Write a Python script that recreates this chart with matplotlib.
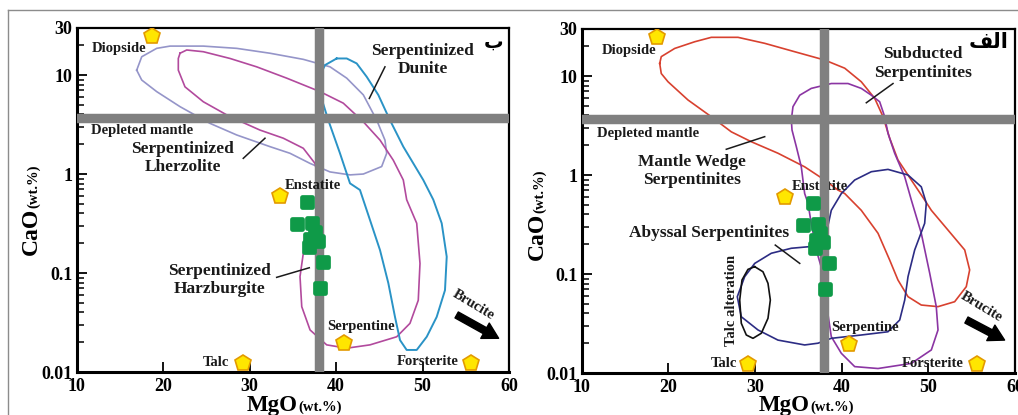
import numpy as np
import matplotlib
matplotlib.use('Agg')
import matplotlib.pyplot as plt
from matplotlib.markers import MarkerStyle
from matplotlib.lines import Line2D
from matplotlib.ticker import FixedLocator, LogLocator, NullFormatter

plt.rcParams['font.family'] = ['Liberation Serif', 'DejaVu Sans']
plt.rcParams['font.weight'] = 'bold'

# ---- fields, left panel (MgO wt.%, CaO wt.%)
lherz_mgo = [16.96, 17.54, 19.27, 20.81, 24.66, 28.52, 32.37, 36.22, 39.31, 41.24, 43.16, 44.71, 45.66,
             45.86, 45.28, 43.16, 41.62, 39.31, 37.0, 34.68, 32.37, 28.52, 25.43, 21.97, 19.27, 17.54]
lherz_cao = [11.2, 15.3, 18.6, 19.6, 19.6, 18.6, 16.6, 14.4, 12.1, 9.3, 6.3, 3.5, 2.2,
             1.62, 1.19, 1.0, 0.98, 1.05, 1.28, 1.62, 1.89, 2.48, 3.25, 4.79, 6.8, 8.9]

harz_mgo = [21.97, 22.74, 24.66, 27.75, 30.83, 34.3, 38.15, 40.84, 43.16, 45.09, 46.62, 47.78, 48.17,
            49.33, 49.71, 49.51, 48.55, 47.02, 43.93, 41.24, 38.92, 37.0, 36.04, 35.84, 36.22, 37.77,
            38.35, 38.15, 37.57, 36.22, 33.91, 31.21, 27.75, 24.66, 22.54, 21.77, 21.77]
harz_cao = [16.6, 17.9, 17.2, 14.7, 12.1, 9.3, 6.8, 5.2, 3.37, 2.2, 1.38, 0.87, 0.55,
            0.318, 0.125, 0.053, 0.031, 0.0227, 0.0188, 0.0174, 0.0188, 0.0266, 0.0457, 0.092, 0.158, 0.318,
            0.59, 0.745, 1.28, 1.82, 2.3, 2.78, 3.79, 5.37, 7.6, 11.2, 14.7]

dunite_mgo = [40.08, 41.24, 42.39, 43.55, 44.89, 46.24, 47.78, 50.09, 51.25, 52.22, 52.8, 52.6, 51.64, 50.49,
              49.33, 48.17, 47.4, 46.82, 46.05, 45.09, 43.93, 42.77, 41.62, 40.46, 39.11, 38.15, 38.07, 38.73]
dunite_cao = [14.7, 14.7, 13.1, 9.6, 6.3, 3.5, 1.89, 0.87, 0.55, 0.318, 0.146, 0.067, 0.036, 0.0227,
              0.0167, 0.0167, 0.021, 0.036, 0.079, 0.17, 0.343, 0.69, 0.805, 1.62, 3.5, 6.5, 9.6, 12.6]

# ---- fields, right panel
wedge_mgo = [19.02, 19.2, 20.75, 23.06, 24.97, 28.05, 31.13, 34.59, 38.05, 40.36, 42.27, 43.82, 44.78, 45.55,
             46.5, 48.04, 49.58, 50.35, 52.27, 54.2, 54.77, 54.38, 53.04, 51.12, 49.19, 47.66, 46.5, 45.55,
             44.2, 42.27, 40.36, 39.58, 38.05, 35.74, 32.66, 29.58, 27.28, 24.97, 22.28, 19.98, 19.2]
wedge_cao = [13.4, 15.7, 19.0, 22.2, 24.6, 24.6, 21.4, 17.6, 14.5, 12.0, 8.75, 5.95, 3.88, 2.35,
             1.42, 0.89, 0.56, 0.44, 0.278, 0.175, 0.11, 0.0745, 0.0525, 0.0468, 0.0486, 0.059, 0.087, 0.138,
             0.258, 0.44, 0.65, 0.705, 0.89, 1.21, 1.66, 2.17, 2.73, 3.88, 5.73, 8.75, 10.6]

subducted_mgo = [34.2, 34.39, 35.17, 36.5, 38.81, 40.74, 42.27, 43.43, 44.39, 44.97, 45.35, 46.12, 47.28,
                 48.04, 49.19, 50.16, 50.92, 51.12, 50.35, 48.04, 44.2, 41.51, 39.97, 38.81, 38.24, 37.85,
                 37.08, 36.5, 36.12, 35.74, 35.35, 34.78, 34.28]
subducted_cao = [3.6, 4.9, 6.4, 7.5, 8.4, 8.4, 7.5, 6.4, 5.5, 3.88, 2.64, 1.66, 0.96,
                 0.56, 0.258, 0.102, 0.0468, 0.0272, 0.0171, 0.0125, 0.0111, 0.0116, 0.0158, 0.0233, 0.0506, 0.102,
                 0.175, 0.325, 0.52, 0.65, 1.21, 1.93, 2.85]

abyssal_mgo = [36.32, 34.2, 31.89, 29.98, 28.82, 27.97, 28.43, 30.36, 32.66, 35.74, 37.28, 38.81, 42.27, 45.35,
               46.7, 47.28, 47.66, 48.43, 49.58, 49.77, 49.19, 47.66, 45.35, 43.43, 41.51, 39.97, 38.81, 38.24]
abyssal_cao = [0.189, 0.182, 0.162, 0.128, 0.094, 0.059, 0.037, 0.0272, 0.0215, 0.0192, 0.02, 0.0224, 0.0242, 0.0261,
               0.0343, 0.0546, 0.094, 0.175, 0.325, 0.52, 0.76, 1.0, 1.14, 1.08, 0.89, 0.65, 0.44, 0.258]

talc_alt_mgo = [29.98, 30.93, 31.51, 31.78, 31.51, 30.74, 29.78, 29.01, 28.43, 28.25, 28.51, 29.2]
talc_alt_cao = [0.1186, 0.1054, 0.0805, 0.0546, 0.0357, 0.0252, 0.0224, 0.0242, 0.0318, 0.0546, 0.087, 0.1114]

# ---- samples (green squares) and reference minerals
sample_mgo = [36.65, 35.5, 37.25, 37.55, 37.05, 37.9, 36.9, 38.5, 38.1]
sample_cao = [0.52, 0.315, 0.32, 0.26, 0.22, 0.213, 0.184, 0.13, 0.071]

mineral_names = ['Diopside', 'Enstatite', 'Serpentine', 'Talc', 'Forsterite']
mineral_mgo = [18.7, 33.5, 40.9, 29.2, 55.6]
mineral_cao = [25.0, 0.6, 0.0195, 0.0122, 0.0122]

depleted_mgo = 38.0
depleted_cao = 3.65

W, H = 1018, 415
fig = plt.figure(figsize=(W / 100, H / 100), dpi=100)


def fx(x):
    return x / W


def fy(y):
    return (H - y) / H


ax_l = fig.add_axes([fx(76.5), fy(372), fx(509) - fx(76.5), fy(27.8) - fy(372)])
ax_r = fig.add_axes([fx(581.5), fy(373), fx(1015) - fx(581.5), fy(28.8) - fy(373)])

# outer frame lines
fig.add_artist(Line2D([fx(8), 1.0], [fy(10), fy(10)], transform=fig.transFigure, color='#8c8c8c', lw=1))
fig.add_artist(Line2D([fx(8), fx(8)], [fy(10), 0.0], transform=fig.transFigure, color='#8c8c8c', lw=1))

sq = MarkerStyle('s', joinstyle='round')


def setup_axes(ax):
    ax.set_yscale('log')
    ax.set_xlim(10, 60)
    ax.set_ylim(0.01, 30)
    ax.xaxis.set_major_locator(FixedLocator([10, 20, 30, 40, 50, 60]))
    ax.set_xticklabels(['10', '20', '30', '40', '50', '60'])
    ax.yaxis.set_major_locator(FixedLocator([0.01, 0.1, 1, 10, 30]))
    ax.set_yticklabels(['0.01', '0.1', '1', '10', '30'])
    ax.yaxis.set_minor_locator(LogLocator(base=10, subs=np.arange(2, 10)))
    ax.yaxis.set_minor_formatter(NullFormatter())
    ax.tick_params(axis='both', which='major', direction='in', length=7, width=1.3,
                   labelsize=13, pad=3)
    ax.tick_params(axis='y', which='minor', direction='in', length=5, width=1.1)
    ax.tick_params(axis='x', which='major', pad=4)
    for lab in ax.get_xticklabels() + ax.get_yticklabels():
        lab.set_fontweight('bold')
    for s in ax.spines.values():
        s.set_linewidth(1.6)
    ax.spines['left'].set_linewidth(2.2)
    ax.spines['bottom'].set_linewidth(2.2)


def field(ax, xs, ys, color, lw=1.2):
    ax.plot(list(xs) + [xs[0]], list(ys) + [ys[0]], color=color, lw=lw, zorder=2,
            solid_joinstyle='round')


def common(ax):
    ax.axvline(depleted_mgo, color='#808080', lw=6.8, zorder=3)
    ax.axhline(depleted_cao, color='#808080', lw=6.8, zorder=3)
    ax.scatter(sample_mgo, sample_cao, marker=sq, s=62, c='#0f9a48', edgecolors='#0f9a48',
               linewidths=3.4, zorder=6)
    ax.plot(mineral_mgo, mineral_cao, 'p', ms=12, mfc='#ffe600', mec='#e39a00', mew=1.2, zorder=6)


def txt(ax, s, x, y, size=10.5, z=5, **kw):
    ax.text(x, y, s, fontsize=size, fontweight='bold', ha='center', va='center', zorder=z,
            color='#1a1a1a', **kw)


def leader(ax, x0, y0, x1, y1):
    ax.plot([x0, x1], [y0, y1], color='#1a1a1a', lw=1.1, zorder=5)


def brucite(ax, bx, by, x0, y0, x1, y1):
    txt(ax, 'Brucite', bx, by, size=10.5, rotation=-31)
    ax.annotate('', xy=(x1, y1), xytext=(x0, y0),
                arrowprops=dict(arrowstyle='simple,head_width=0.9,head_length=0.8,tail_width=0.35',
                                color='k', mutation_scale=14, shrinkA=0, shrinkB=0), zorder=5)


# ---------------- left panel
ax = ax_l
setup_axes(ax)
field(ax, lherz_mgo, lherz_cao, '#9595c9')
field(ax, harz_mgo, harz_cao, '#b24a9d')
field(ax, dunite_mgo, dunite_cao, '#2a93c6', lw=1.4)
common(ax)
txt(ax, 'Diopside', 14.9, 18.7)
txt(ax, 'Depleted mantle', 17.6, 2.78)
txt(ax, 'Serpentinized\nLherzolite', 22.25, 1.45, size=12.5, linespacing=1.2)
txt(ax, 'Serpentinized\nDunite', 50.0, 14.2, size=12.5, linespacing=1.2)
txt(ax, 'Serpentinized\nHarzburgite', 26.5, 0.085, size=12.5, linespacing=1.2)
txt(ax, 'Enstatite', 37.35, 0.774, z=4)
txt(ax, 'Serpentine', 42.9, 0.0285)
txt(ax, 'Talc', 26.1, 0.0124)
txt(ax, 'Forsterite', 50.6, 0.0127)
leader(ax, 45.66, 12.1, 43.85, 5.8)
leader(ax, 29.28, 1.44, 31.79, 2.3)
leader(ax, 33.14, 0.0904, 36.91, 0.113)
brucite(ax, 55.9, 0.0475, 53.95, 0.0377, 58.8, 0.0219)
ax.text(58.2, 21.5, 'ب', fontsize=14, fontweight='bold', family=['DejaVu Sans'],
        ha='center', va='center', zorder=5)

# ---------------- right panel
ax = ax_r
setup_axes(ax)
field(ax, wedge_mgo, wedge_cao, '#d8412f')
field(ax, subducted_mgo, subducted_cao, '#8b35a3')
field(ax, abyssal_mgo, abyssal_cao, '#2c2c84')
field(ax, talc_alt_mgo, talc_alt_cao, '#111111')
common(ax)
txt(ax, 'Diopside', 15.5, 18.3)
txt(ax, 'Depleted mantle', 17.7, 2.6)
txt(ax, 'Mantle Wedge\nSerpentinites', 22.7, 1.1, size=12.5, linespacing=1.2)
txt(ax, 'Subducted\nSerpentinites', 49.4, 13.4, size=12.5, linespacing=1.2)
txt(ax, 'Abyssal Serpentinites', 24.7, 0.26, size=12.5)
txt(ax, 'Talc alteration', 27.3, 0.0536, rotation=90)
txt(ax, 'Enstatite', 37.5, 0.757, z=2.5)
txt(ax, 'Serpentine', 42.7, 0.0285)
txt(ax, 'Talc', 26.4, 0.0124)
txt(ax, 'Forsterite', 50.5, 0.0124)
leader(ax, 45.93, 8.4, 42.85, 5.37)
leader(ax, 26.7, 1.82, 31.13, 2.44)
leader(ax, 32.35, 0.196, 35.17, 0.128)
brucite(ax, 56.1, 0.0468, 54.4, 0.0343, 58.8, 0.0215)
# "الف" written with Arabic presentation forms in visual order so it joins correctly
ax.text(57.0, 22.0, '\ufed2\ufedf\ufe8d', fontsize=15, fontweight='bold', family=['DejaVu Sans'],
        ha='center', va='center', zorder=5)

# ---------------- axis titles
for x_join, y_base in [(298, 411), (810, 411)]:
    fig.text(fx(x_join), fy(y_base), 'MgO', fontsize=16.5, fontweight='bold', ha='right', va='baseline')
    fig.text(fx(x_join), fy(y_base), '(wt.%)', fontsize=10.5, fontweight='bold', ha='left', va='baseline')
for x_base, y_join in [(37, 208), (543, 213)]:
    fig.text(fx(x_base), fy(y_join), 'CaO', fontsize=17, fontweight='bold', rotation=90,
             rotation_mode='anchor', ha='right', va='baseline')
    fig.text(fx(x_base), fy(y_join), '(wt.%)', fontsize=10.5, fontweight='bold', rotation=90,
             rotation_mode='anchor', ha='left', va='baseline')

fig.savefig('out.png', dpi=100)
